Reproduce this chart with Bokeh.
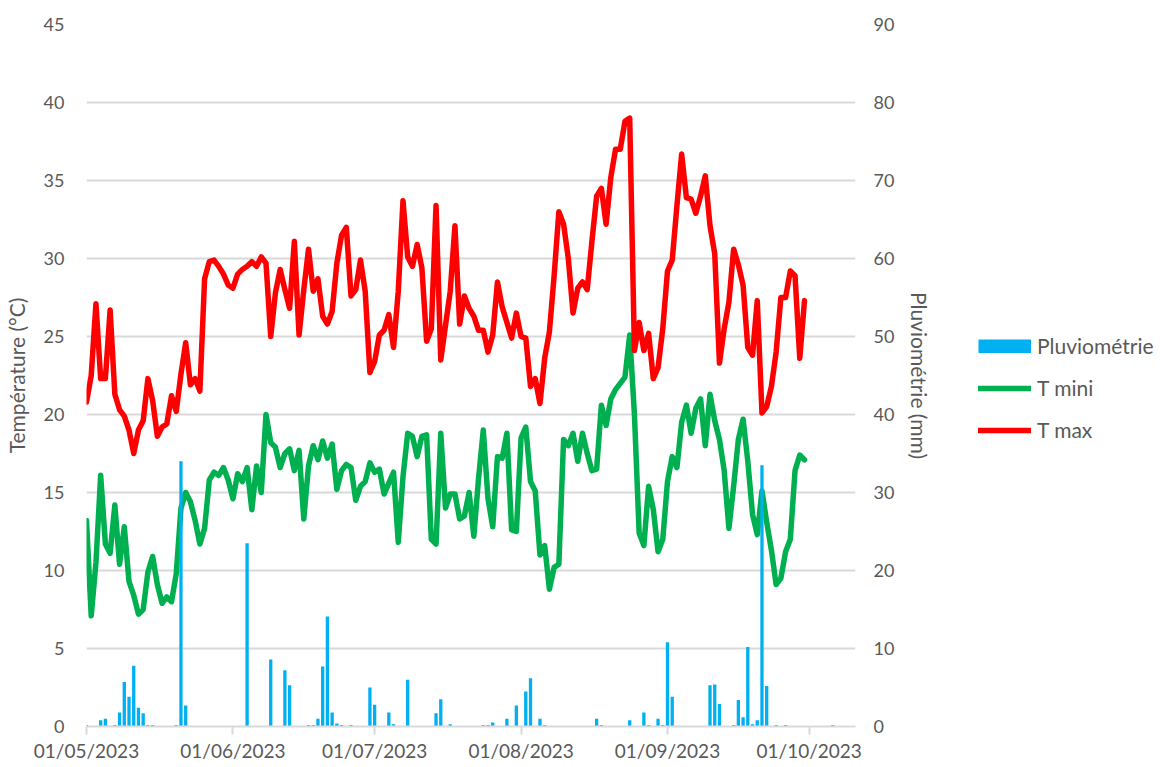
import pandas as pd
from bokeh.plotting import figure
from bokeh.layouts import row
from bokeh.models import (Range1d, LinearAxis, DatetimeTickFormatter, MonthsTicker,
                          FixedTicker, Legend, LegendItem, ColumnDataSource)
from bokeh.embed import file_html
from bokeh.resources import INLINE

# ---------------- data ----------------
first_day = "2023-05-01"

t_max = [
    # May
    20.8, 22.5, 27.1, 22.3, 22.3, 26.7, 21.3, 20.3, 19.9, 19.0, 17.5, 19.0, 19.6, 22.3, 20.9,
    18.6, 19.2, 19.4, 21.2, 20.2, 22.6, 24.6, 21.9, 22.3, 21.5, 28.7, 29.8, 29.9, 29.5, 29.0, 28.3,
    # June
    28.1, 29.0, 29.3, 29.5, 29.8, 29.5, 30.1, 29.7, 25.0, 27.8, 29.3, 28.0, 26.8, 31.1, 25.1,
    28.0, 30.6, 27.9, 28.7, 26.3, 25.8, 26.6, 29.7, 31.5, 32.0, 27.6, 28.0, 29.9, 27.9, 22.7,
    # July
    23.4, 25.1, 25.4, 26.4, 24.3, 27.9, 33.7, 30.1, 29.5, 30.9, 29.4, 24.7, 25.5, 33.4, 23.5,
    25.7, 27.9, 32.1, 25.8, 27.6, 26.8, 26.3, 25.4, 25.4, 24.0, 25.1, 28.5, 26.9, 25.9, 24.9, 26.5,
    # August
    25.0, 24.9, 21.8, 22.3, 20.7, 23.6, 25.3, 28.9, 33.0, 32.2, 30.0, 26.5, 28.1, 28.5, 28.0,
    31.1, 34.0, 34.5, 32.2, 35.2, 37.0, 37.0, 38.8, 39.0, 24.1, 25.9, 24.1, 25.2, 22.3, 23.0, 25.5,
    # September
    29.2, 29.9, 33.4, 36.7, 33.9, 33.8, 32.9, 34.0, 35.3, 32.1, 30.3, 23.3, 25.5, 27.2, 30.6,
    29.6, 28.3, 24.3, 23.8, 27.3, 20.1, 20.5, 21.8, 24.0, 27.5, 27.5, 29.2, 28.9, 23.6, 27.3,
]

t_min = [
    # May
    13.2, 7.1, 10.5, 16.1, 11.7, 11.1, 14.2, 10.4, 12.8, 9.3, 8.4, 7.2, 7.5, 9.9, 10.9,
    9.1, 7.9, 8.3, 8.0, 9.8, 14.0, 15.0, 14.4, 13.2, 11.7, 12.7, 15.8, 16.3, 16.1, 16.6, 15.8,
    # June
    14.6, 16.2, 15.7, 16.6, 13.9, 16.7, 15.0, 20.0, 18.2, 17.9, 16.6, 17.5, 17.8, 16.4, 17.7,
    13.3, 16.7, 18.0, 17.1, 18.3, 17.2, 18.1, 15.2, 16.4, 16.8, 16.6, 14.5, 15.4, 15.7, 16.9,
    # July
    16.3, 16.5, 14.9, 15.6, 16.3, 11.8, 16.0, 18.8, 18.6, 17.3, 18.6, 18.7, 12.0, 11.7, 18.8,
    14.0, 14.9, 14.9, 13.3, 13.5, 15.0, 12.2, 15.9, 19.0, 14.6, 12.8, 17.3, 17.2, 18.8, 12.6, 12.5,
    # August
    18.5, 19.2, 15.7, 15.1, 11.0, 11.6, 8.8, 10.2, 10.4, 18.4, 18.0, 18.8, 17.0, 18.8, 17.5,
    16.4, 16.5, 20.6, 19.3, 21.0, 21.6, 22.0, 22.4, 25.1, 20.0, 12.4, 11.6, 15.4, 13.9, 11.2, 12.0,
    # September
    15.7, 17.3, 16.6, 19.5, 20.6, 18.8, 20.4, 21.0, 18.0, 21.3, 19.6, 18.4, 16.4, 12.7, 15.4,
    18.4, 19.7, 17.0, 13.6, 12.3, 15.1, 13.1, 11.3, 9.1, 9.5, 11.2, 12.0, 16.4, 17.4, 17.1,
]

rain_dates = [
    "2023-05-01", "2023-05-04", "2023-05-05", "2023-05-07", "2023-05-08", "2023-05-09",
    "2023-05-10", "2023-05-11", "2023-05-12", "2023-05-13", "2023-05-14", "2023-05-15",
    "2023-05-20", "2023-05-21", "2023-05-22", "2023-06-04", "2023-06-09", "2023-06-12",
    "2023-06-13", "2023-06-17", "2023-06-18", "2023-06-19", "2023-06-20", "2023-06-21",
    "2023-06-22", "2023-06-23", "2023-06-24", "2023-06-26", "2023-06-30", "2023-07-01",
    "2023-07-04", "2023-07-05", "2023-07-08", "2023-07-14", "2023-07-15", "2023-07-17",
    "2023-07-24", "2023-07-25", "2023-07-26", "2023-07-29", "2023-07-31", "2023-08-02",
    "2023-08-03", "2023-08-05", "2023-08-06", "2023-08-17", "2023-08-18", "2023-08-24",
    "2023-08-27", "2023-08-28", "2023-08-30", "2023-08-31", "2023-09-01", "2023-09-02",
    "2023-09-10", "2023-09-11", "2023-09-12", "2023-09-15", "2023-09-16", "2023-09-17",
    "2023-09-18", "2023-09-19", "2023-09-20", "2023-09-21", "2023-09-22", "2023-09-24",
    "2023-09-26", "2023-10-06",
]
rain_mm = [
    0.2, 0.8, 1.0, 0.2, 1.8, 5.7,
    3.8, 7.8, 2.4, 1.7, 0.2, 0.2,
    0.2, 34.0, 2.7, 23.5, 8.6, 7.2,
    5.3, 0.2, 0.2, 1.0, 7.7, 14.1,
    1.8, 0.4, 0.2, 0.2, 5.0, 2.8,
    1.8, 0.3, 6.0, 1.7, 3.5, 0.3,
    0.2, 0.2, 0.5, 1.0, 2.7, 4.5,
    6.2, 1.0, 0.2, 1.0, 0.2, 0.8,
    1.8, 0.2, 1.0, 0.2, 10.8, 3.8,
    5.3, 5.4, 2.9, 0.2, 3.4, 1.2,
    10.2, 0.3, 0.8, 33.5, 5.2, 0.2,
    0.2, 0.2,
]

series_labels = ["Pluviométrie", "T mini", "T max"]
temp_ticks = [0, 5, 10, 15, 20, 25, 30, 35, 40, 45]
rain_ticks = [0, 10, 20, 30, 40, 50, 60, 70, 80, 90]

# ---------------- styles ----------------
FONT = "Lato"
TXT = "#595959"
GRID = "#d9d9d9"
C_RAIN, C_MIN, C_MAX = "#00B0F0", "#00B050", "#FF0000"
LW = 5.5

days = pd.date_range(first_day, periods=len(t_max), freq="D")
temp_src = ColumnDataSource(dict(date=days, tmax=t_max, tmin=t_min))
rain_src = ColumnDataSource(dict(date=pd.to_datetime(rain_dates), mm=rain_mm))

x0 = pd.Timestamp(first_day)
x1 = x0 + pd.Timedelta(days=162.8)

p = figure(x_axis_type="datetime", frame_width=769, frame_height=702,
           min_border_left=86, min_border_right=80, min_border_top=24, min_border_bottom=40,
           x_range=Range1d(x0, x1), y_range=Range1d(0, 45),
           output_backend="svg", toolbar_location=None, tools="")
p.outline_line_color = None
p.extra_y_ranges = {"rain": Range1d(0, 90)}

# grid
p.xgrid.grid_line_color = None
p.ygrid.grid_line_color = GRID
p.ygrid.grid_line_width = 2
p.ygrid.ticker = FixedTicker(ticks=temp_ticks)

# series
p.line("date", "tmin", source=temp_src, line_color=C_MIN, line_width=LW,
       line_join="round", line_cap="round")
p.line("date", "tmax", source=temp_src, line_color=C_MAX, line_width=LW,
       line_join="round", line_cap="round")
p.vbar(x="date", top="mm", bottom=0, width=0.7 * 86400000, source=rain_src,
       y_range_name="rain", fill_color=C_RAIN, line_color=None)

# left axis
ya = p.yaxis[0]
ya.ticker = FixedTicker(ticks=temp_ticks)
ya.axis_line_color = None
ya.major_tick_line_color = None
ya.major_tick_out = 0
ya.major_tick_in = 0
ya.minor_tick_line_color = None
ya.minor_tick_out = 0
ya.major_label_standoff = 22
ya.major_label_text_font = FONT
ya.major_label_text_font_size = "18px"
ya.major_label_text_color = TXT
ya.axis_label = "Température (°C)"
ya.axis_label_text_font = FONT
ya.axis_label_text_font_size = "21px"
ya.axis_label_text_font_style = "normal"
ya.axis_label_text_color = TXT
ya.axis_label_standoff = 12

# right axis
ra = LinearAxis(y_range_name="rain", ticker=FixedTicker(ticks=rain_ticks))
ra.axis_line_color = None
ra.major_tick_line_color = None
ra.major_tick_out = 0
ra.major_tick_in = 0
ra.minor_tick_line_color = None
ra.minor_tick_out = 0
ra.major_label_standoff = 18
ra.major_label_text_font = FONT
ra.major_label_text_font_size = "18px"
ra.major_label_text_color = TXT
ra.axis_label = "Pluviométrie (mm)"
ra.axis_label_text_font = FONT
ra.axis_label_text_font_size = "21px"
ra.axis_label_text_font_style = "normal"
ra.axis_label_text_color = TXT
ra.axis_label_standoff = 10
p.add_layout(ra, "right")

# bottom axis
xa = p.xaxis[0]
xa.ticker = MonthsTicker(months=list(range(1, 13)))
fmt = "%d/%m/%Y"
xa.formatter = DatetimeTickFormatter(days=fmt, months=fmt, years=fmt, hours=fmt)
xa.axis_line_color = GRID
xa.axis_line_width = 2
xa.major_tick_line_color = GRID
xa.major_tick_line_width = 2
xa.major_tick_out = 8
xa.major_tick_in = 0
xa.minor_tick_line_color = None
xa.minor_tick_out = 0
xa.major_label_standoff = 4
xa.major_label_text_font = FONT
xa.major_label_text_font_size = "19px"
xa.major_label_text_color = TXT

# ---------------- legend panel (separate figure to the right) ----------------
LEG_W, LEG_H = 222, 766
q = figure(width=LEG_W, height=LEG_H, x_range=Range1d(0, 1), y_range=Range1d(0, 1),
           min_border=0, x_axis_location=None, y_axis_location=None,
           output_backend="svg", toolbar_location=None, tools="")
q.outline_line_color = None
q.grid.grid_line_color = None
# legend-only renderers: their points lie outside the (clipped) panel ranges
off = ColumnDataSource(dict(x=[-10, -9], y=[-10, -10]))
g_rain = q.line("x", "y", source=off, line_color=C_RAIN, line_width=14, line_cap="butt")
g_min = q.line("x", "y", source=off, line_color=C_MIN, line_width=LW, line_cap="round")
g_max = q.line("x", "y", source=off, line_color=C_MAX, line_width=LW, line_cap="round")

legend = Legend(items=[LegendItem(label=series_labels[0], renderers=[g_rain]),
                       LegendItem(label=series_labels[1], renderers=[g_min]),
                       LegendItem(label=series_labels[2], renderers=[g_max])],
                location=(43, LEG_H - 482), glyph_width=53, glyph_height=14,
                label_standoff=6, spacing=17, padding=0, margin=0,
                border_line_color=None, background_fill_alpha=0,
                label_text_font=FONT, label_text_font_size="21px",
                label_text_color=TXT)
q.add_layout(legend, "center")

layout = row(p, q, spacing=0)
open("out.html", "w").write(file_html(layout, INLINE))
